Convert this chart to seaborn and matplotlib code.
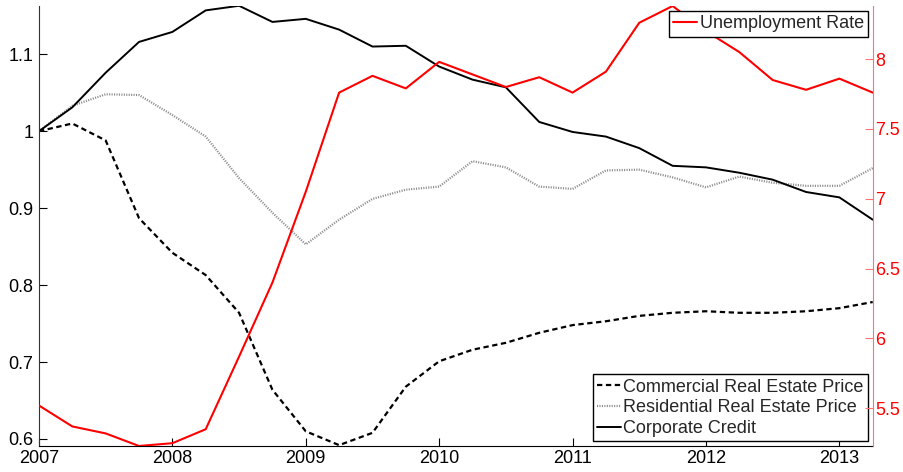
import numpy as np
import pandas as pd
import matplotlib
matplotlib.use("Agg")
import matplotlib.pyplot as plt
import seaborn as sns

# ── Data (quarterly) ───────────────────────────────────────────
quarters = [2007.00, 2007.25, 2007.50, 2007.75, 2008.00, 2008.25, 2008.50,
            2008.75, 2009.00, 2009.25, 2009.50, 2009.75, 2010.00, 2010.25,
            2010.50, 2010.75, 2011.00, 2011.25, 2011.50, 2011.75, 2012.00,
            2012.25, 2012.50, 2012.75, 2013.00, 2013.25]

commercial = [1.000, 1.010, 0.988, 0.887, 0.842, 0.813, 0.764, 0.664, 0.610,
              0.592, 0.608, 0.668, 0.701, 0.716, 0.725, 0.738, 0.748, 0.753,
              0.760, 0.764, 0.766, 0.764, 0.764, 0.766, 0.770, 0.778]

residential = [1.000, 1.033, 1.048, 1.047, 1.021, 0.993, 0.939, 0.894, 0.853,
               0.885, 0.912, 0.924, 0.928, 0.961, 0.953, 0.928, 0.925, 0.949,
               0.950, 0.940, 0.927, 0.941, 0.933, 0.929, 0.929, 0.952]

corporate = [1.000, 1.031, 1.076, 1.116, 1.129, 1.157, 1.163, 1.142, 1.146,
             1.132, 1.110, 1.111, 1.084, 1.067, 1.057, 1.012, 0.999, 0.993,
             0.978, 0.955, 0.953, 0.946, 0.937, 0.921, 0.914, 0.885]

unemployment = [5.52, 5.37, 5.32, 5.23, 5.25, 5.35, 5.87, 6.40, 7.05, 7.76,
                7.88, 7.79, 7.98, 7.89, 7.80, 7.87, 7.76, 7.91, 8.26, 8.38,
                8.20, 8.05, 7.85, 7.78, 7.86, 7.76]

year_ticks = [2007, 2008, 2009, 2010, 2011, 2012, 2013]
left_ticks = [0.6, 0.7, 0.8, 0.9, 1.0, 1.1]
left_labels = ["0.6", "0.7", "0.8", "0.9", "1", "1.1"]
right_ticks = [5.5, 6.0, 6.5, 7.0, 7.5, 8.0]
right_labels = ["5.5", "6", "6.5", "7", "7.5", "8"]

df = pd.DataFrame({
    "quarter": quarters,
    "Commercial Real Estate Price": commercial,
    "Residential Real Estate Price": residential,
    "Corporate Credit": corporate,
    "Unemployment Rate": unemployment,
})

# ── Style ─────────────────────────────────────────────────────
sns.set_style("ticks")
plt.rcParams["font.family"] = ["Liberation Sans", "DejaVu Sans"]
plt.rcParams["xtick.direction"] = "in"
plt.rcParams["ytick.direction"] = "in"

fig = plt.figure(figsize=(9.04, 4.72), dpi=100)
ax = fig.add_axes([0.0431, 0.0551, 0.9223, 0.9322])

sns.lineplot(data=df, x="quarter", y="Commercial Real Estate Price", ax=ax,
             color="black", lw=1.6, linestyle=(0, (2.4, 1.6)),
             label="Commercial Real Estate Price")
sns.lineplot(data=df, x="quarter", y="Residential Real Estate Price", ax=ax,
             color="#8c8c8c", lw=1.6, linestyle=(0, (0.5, 0.6)),
             label="Residential Real Estate Price")
sns.lineplot(data=df, x="quarter", y="Corporate Credit", ax=ax,
             color="black", lw=1.4, label="Corporate Credit")

ax.set_xlim(quarters[0], quarters[-1])
ax.set_ylim(0.5909, 1.1627)
ax.set_xticks(year_ticks)
ax.set_xticklabels([str(y) for y in year_ticks])
ax.set_yticks(left_ticks)
ax.set_yticklabels(left_labels)
ax.set_xlabel(""); ax.set_ylabel("")
ax.tick_params(axis="both", labelsize=13, length=6, width=0.8, colors="black")
ax.tick_params(axis="x", pad=3)
ax.tick_params(axis="y", pad=4)
ax.spines["top"].set_visible(False)
ax.spines["right"].set_visible(False)
ax.spines["left"].set_color("#333333")
ax.spines["bottom"].set_color("black")

leg = ax.legend(loc="lower right", fontsize=13, handlelength=1.3,
                handletextpad=0.15, labelspacing=0.2, borderpad=0.25,
                borderaxespad=0.25, fancybox=False, framealpha=1,
                edgecolor="black")
leg.get_frame().set_linewidth(1.0)

# right axis — unemployment
ax2 = ax.twinx()
sns.lineplot(data=df, x="quarter", y="Unemployment Rate", ax=ax2,
             color="red", lw=1.5, label="Unemployment Rate")
ax2.set_xlim(quarters[0], quarters[-1])
ax2.set_ylim(5.23, 8.38)
ax2.set_yticks(right_ticks)
ax2.set_yticklabels(right_labels)
ax2.set_ylabel("")
ax2.tick_params(axis="y", labelsize=13, length=6, width=0.8, pad=2,
                colors="#ff7373", labelcolor="red")
for s in ["top", "left", "bottom"]:
    ax2.spines[s].set_visible(False)
ax2.spines["right"].set_color("#ff7373")

leg2 = ax2.legend(loc="upper right", fontsize=13, handlelength=1.3,
                  handletextpad=0.15, borderpad=0.25, borderaxespad=0.25,
                  fancybox=False, framealpha=1, edgecolor="black")
leg2.get_frame().set_linewidth(1.0)

fig.savefig("out.png", dpi=100)
